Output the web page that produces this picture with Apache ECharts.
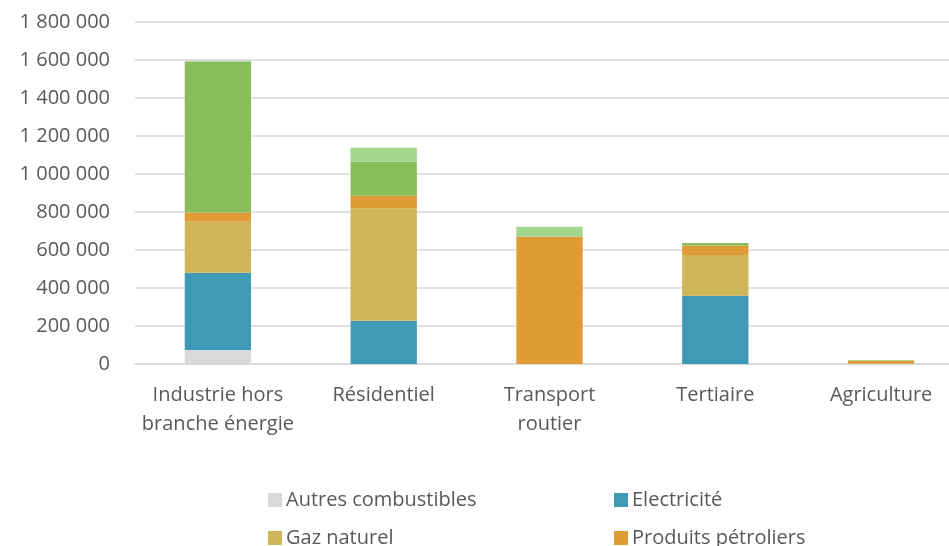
<!DOCTYPE html>
<html><head><meta charset="utf-8">
<script src="https://cdn.jsdelivr.net/npm/echarts@6/dist/echarts.min.js"></script>
<style>html,body{margin:0;padding:0;background:#fff}#c{width:949px;height:546px}</style>
</head><body><div id="c"></div>
<script>
const categories = ['Industrie hors\nbranche énergie', 'Résidentiel', 'Transport\nroutier', 'Tertiaire', 'Agriculture'];
const autresCombustibles = [74000, 0, 0, 0, 0];
const electricite = [406000, 228000, 0, 359000, 0];
const gazNaturel = [269000, 591000, 0, 215000, 2000];
const produitsPetroliers = [49000, 67000, 670000, 49000, 15000];
const combustiblesMineraux = [793000, 179000, 0, 14000, 3000];
const enrThermiques = [5000, 73000, 53000, 0, 1000];
const yTicks = { min: 0, max: 1800000, interval: 200000 };

const names = ['Autres combustibles', 'Electricité', 'Gaz naturel', 'Produits pétroliers', 'Combustibles minéraux solides', 'EnR thermiques'];
const colors = ['#D9D9D9', '#3F9AB8', '#CEB659', '#E09B36', '#88BD5A', '#A3D68C'];
const values = [autresCombustibles, electricite, gazNaturel, produitsPetroliers, combustiblesMineraux, enrThermiques];
const font = 'Open Sans, sans-serif';
const txt = '#595959';

function fmt(v) { return String(v).replace(/\B(?=(\d{3})+(?!\d))/g, ' '); }

const legendPos = [[263, 485], [609, 485], [263, 523], [609, 523]];
const legends = legendPos.map((p, i) => ({
  left: p[0], top: p[1], data: [names[i]], icon: 'rect', itemWidth: 14, itemHeight: 14, itemGap: 0,
  textStyle: { color: txt, fontSize: 20, fontFamily: font, padding: [0, 0, 0, -1] }, selectedMode: false
}));

const chart = echarts.init(document.getElementById('c'), null, { renderer: 'canvas' });
chart.setOption({
  animation: false,
  color: colors,
  legend: legends,
  grid: { left: 135, top: 22, width: 829, height: 342, containLabel: false, outerBoundsMode: 'none' },
  xAxis: {
    type: 'category', data: categories,
    axisLine: { lineStyle: { color: '#D9D9D9', width: 1.5 } },
    axisTick: { show: false },
    axisLabel: { color: txt, fontSize: 20, fontFamily: font, lineHeight: 29, margin: 17, interval: 0 }
  },
  yAxis: {
    type: 'value', min: yTicks.min, max: yTicks.max, interval: yTicks.interval,
    axisLine: { show: false }, axisTick: { show: false },
    splitLine: { lineStyle: { color: '#D9D9D9', width: 1.5 } },
    axisLabel: { color: txt, fontSize: 20, fontFamily: font, margin: 25, formatter: fmt }
  },
  series: values.map((d, i) => ({
    name: names[i], type: 'bar', stack: 'total', data: d, barWidth: '40%',
    itemStyle: { color: colors[i] }
  }))
});
</script></body></html>
